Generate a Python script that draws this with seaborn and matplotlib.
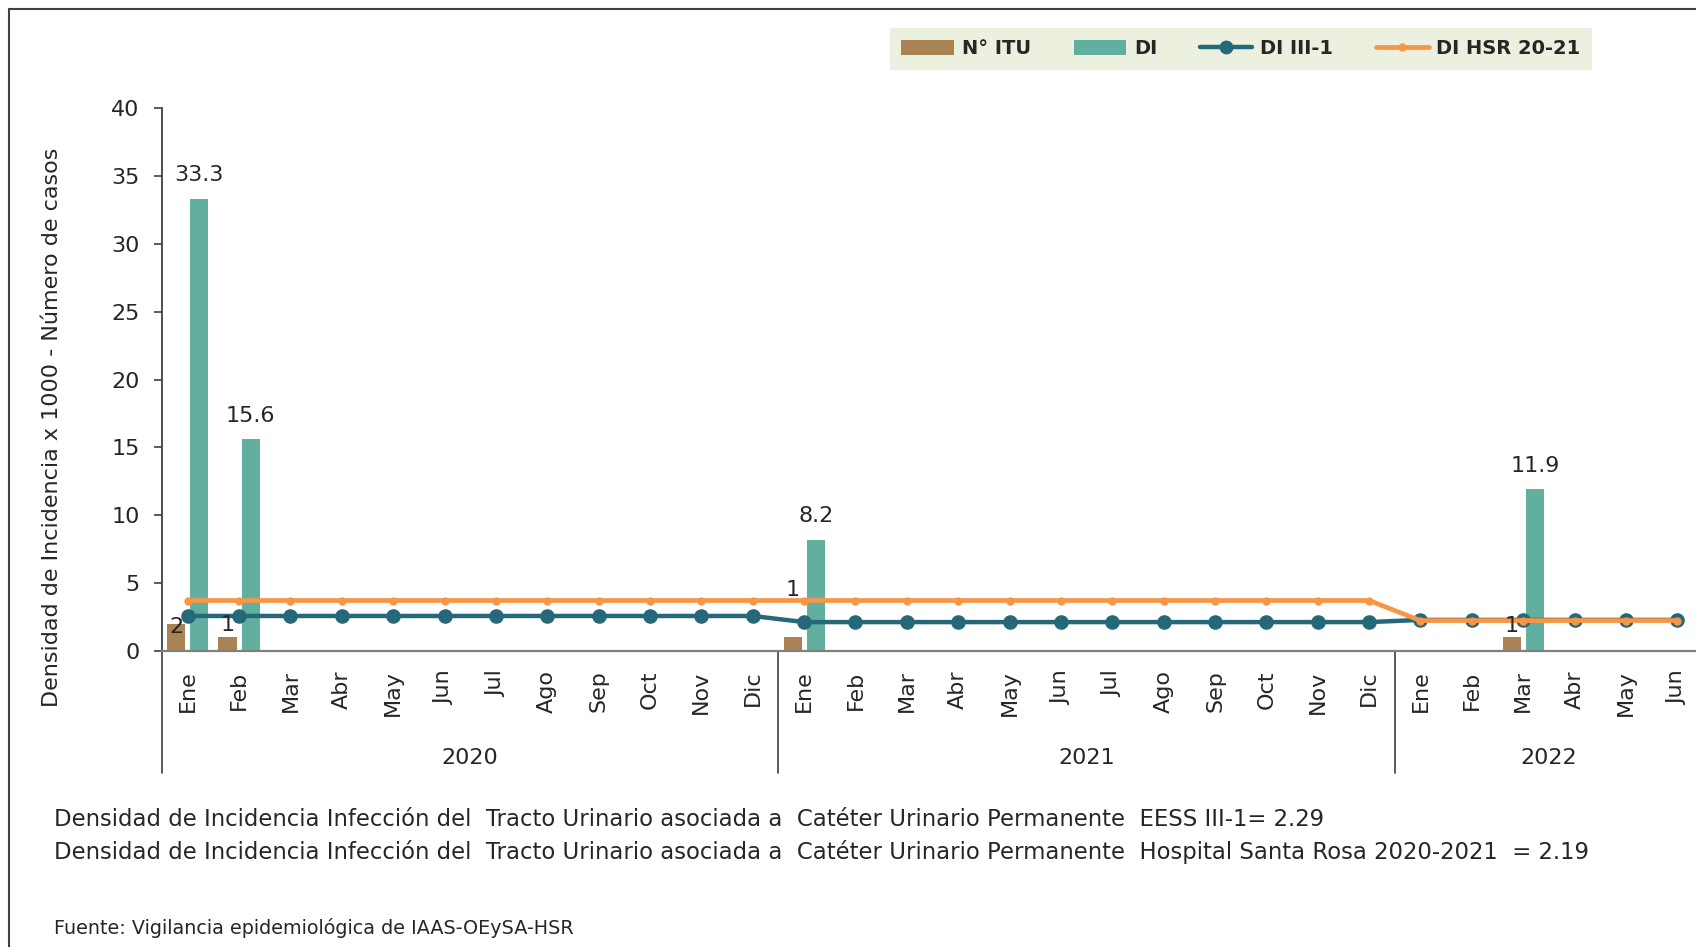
import matplotlib
matplotlib.use('Agg')
import matplotlib.pyplot as plt
import seaborn as sns
import numpy as np
import pandas as pd
from matplotlib.lines import Line2D
from matplotlib.patches import Patch

# ---------------- data ----------------
years = ['2020'] * 12 + ['2021'] * 12 + ['2022'] * 6
months = ['Ene', 'Feb', 'Mar', 'Abr', 'May', 'Jun', 'Jul', 'Ago', 'Sep', 'Oct', 'Nov', 'Dic',
          'Ene', 'Feb', 'Mar', 'Abr', 'May', 'Jun', 'Jul', 'Ago', 'Sep', 'Oct', 'Nov', 'Dic',
          'Ene', 'Feb', 'Mar', 'Abr', 'May', 'Jun']
year_labels = ['2020', '2021', '2022']
n_itu = [2, 1, 0, 0, 0, 0, 0, 0, 0, 0, 0, 0,
         1, 0, 0, 0, 0, 0, 0, 0, 0, 0, 0, 0,
         0, 0, 1, 0, 0, 0]
di = [33.3, 15.6, 0, 0, 0, 0, 0, 0, 0, 0, 0, 0,
      8.2, 0, 0, 0, 0, 0, 0, 0, 0, 0, 0, 0,
      0, 0, 11.9, 0, 0, 0]
di_iii1 = [2.58, 2.58, 2.58, 2.58, 2.58, 2.58, 2.58, 2.58, 2.58, 2.58, 2.58, 2.58,
           2.13, 2.13, 2.13, 2.13, 2.13, 2.13, 2.13, 2.13, 2.13, 2.13, 2.13, 2.13,
           2.29, 2.29, 2.29, 2.29, 2.29, 2.29]
di_hsr = [3.72, 3.72, 3.72, 3.72, 3.72, 3.72, 3.72, 3.72, 3.72, 3.72, 3.72, 3.72,
          3.72, 3.72, 3.72, 3.72, 3.72, 3.72, 3.72, 3.72, 3.72, 3.72, 3.72, 3.72,
          2.24, 2.24, 2.24, 2.24, 2.24, 2.24]
series_names = ['N° ITU', 'DI', 'DI III-1', 'DI HSR 20-21']
note_lines = [
    'Densidad de Incidencia Infección del  Tracto Urinario asociada a  Catéter Urinario Permanente  EESS III-1= 2.29',
    'Densidad de Incidencia Infección del  Tracto Urinario asociada a  Catéter Urinario Permanente  Hospital Santa Rosa 2020-2021  = 2.19',
]
source_text = 'Fuente: Vigilancia epidemiológica de IAAS-OEySA-HSR'
y_title = 'Densidad de Incidencia x 1000 - Número de casos'

# ---------------- style ----------------
c_itu = '#A98354'
c_di = '#63AF9F'
c_teal = '#24687A'
c_orange = '#F79646'
sns.set_style('white')
plt.rcParams['font.family'] = ['DejaVu Sans']

W, H = 1696, 947
fig = plt.figure(figsize=(W / 100, H / 100), dpi=100)
ax_left, ax_right = 162 / W, 1703 / W
ax_bottom, ax_top = (H - 651) / H, (H - 108) / H
ax = fig.add_axes([ax_left, ax_bottom, ax_right - ax_left, ax_top - ax_bottom])

keys = [f'{y}-{m}' for y, m in zip(years, months)]
n = len(keys)
df = pd.DataFrame({
    'key': keys * 2,
    'value': n_itu + di,
    'serie': [series_names[0]] * n + [series_names[1]] * n,
})
sns.barplot(data=df, x='key', y='value', hue='serie', order=keys,
            hue_order=series_names[:2],
            palette={series_names[0]: c_itu, series_names[1]: c_di},
            width=0.9, gap=0.22, saturation=1, linewidth=0, errorbar=None,
            legend=False, ax=ax, zorder=2)

pos = np.arange(n)
sns.lineplot(x=pos, y=di_iii1, ax=ax, color=c_teal, lw=3.2, marker='o',
             markersize=10.5, markeredgewidth=0, zorder=4, legend=False)
sns.lineplot(x=pos, y=di_hsr, ax=ax, color=c_orange, lw=3.4, marker='o',
             markersize=6, markeredgewidth=0, zorder=5, legend=False)

# data labels
itu_offsets = [-2, 9, 34, 8]   # points, label position tweaks
k = 0
for bar, v in zip(ax.containers[0], n_itu):
    if v:
        ax.annotate(f'{v}', (bar.get_x() + bar.get_width() / 2, v),
                    xytext=(0, itu_offsets[k]), textcoords='offset points',
                    ha='center', va='center', fontsize=16, zorder=6)
        k += 1
for bar, v in zip(ax.containers[1], di):
    if v:
        ax.annotate(f'{v}', (bar.get_x() + bar.get_width() / 2, v),
                    xytext=(0, 17), textcoords='offset points',
                    ha='center', va='center', fontsize=16, zorder=6)

# axes
ax.set_xlim(-0.5, n - 0.5)
ax.set_ylim(0, 40)
ax.set_yticks(range(0, 41, 5))
ax.set_xticks(pos)
ax.set_xticklabels(months, rotation=90, va='top', ha='center')
ax.tick_params(axis='x', length=0, pad=14, labelsize=16)
ax.tick_params(axis='y', length=6, width=1.2, pad=10, labelsize=16, color='#404040', left=True)
ax.set_xlabel('')
ax.set_ylabel('')
for s in ['top', 'right']:
    ax.spines[s].set_visible(False)
ax.spines['left'].set_color('#404040')
ax.spines['left'].set_linewidth(1.3)
ax.spines['bottom'].set_color('#7F7F7F')
ax.spines['bottom'].set_linewidth(1.6)
ax.grid(False)

# category group separators and year labels
trans = ax.get_xaxis_transform()
ax_h_px = 651 - 108
y_low = -(773 - 651) / ax_h_px
bounds = [-0.5, 11.5, 23.5]
for b in bounds:
    ax.add_line(Line2D([b, b], [0, y_low], transform=trans, color='#404040', lw=1.2, clip_on=False))
group_sizes = [years.count(y) for y in year_labels]
start = 0
for lab, sz in zip(year_labels, group_sizes):
    ax.text(start + (sz - 1) / 2, -(758 - 651) / ax_h_px, lab, transform=trans,
            ha='center', va='center', fontsize=16)
    start += sz

# y title
ax.text((52 - 162) / (1703 - 162), (651 - 427) / ax_h_px, y_title, transform=ax.transAxes,
        rotation=90, ha='center', va='center', fontsize=16)

# legend
handles = [
    Patch(facecolor=c_itu, edgecolor='none'),
    Patch(facecolor=c_di, edgecolor='none'),
    Line2D([], [], color=c_teal, lw=3.2, marker='o', markersize=10, markeredgewidth=0),
    Line2D([], [], color=c_orange, lw=3.4, marker='o', markersize=6, markeredgewidth=0),
]
leg = fig.legend(handles, series_names, loc='center', bbox_to_anchor=(1241 / W, 1 - 49 / H),
                 ncol=4, frameon=True, fancybox=False, facecolor='#EBF1DE', edgecolor='none',
                 framealpha=1, handlelength=2.7, handleheight=0.8, handletextpad=0.4,
                 columnspacing=2.2, borderpad=0.6, prop={'weight': 'bold', 'size': 14})

# notes
fig.text(54 / W, 1 - 819 / H, note_lines[0], ha='left', va='center', fontsize=16.4)
fig.text(54 / W, 1 - 852 / H, note_lines[1], ha='left', va='center', fontsize=16.4)
fig.text(54 / W, 1 - 928 / H, source_text, ha='left', va='center', fontsize=13.8)

# outer frame
fig.add_artist(Line2D([9 / W, 9 / W], [0, 1 - 9 / H], transform=fig.transFigure, color='#404040', lw=1.5))
fig.add_artist(Line2D([9 / W, 1], [1 - 9 / H, 1 - 9 / H], transform=fig.transFigure, color='#404040', lw=1.5))

fig.savefig('out.png', dpi=100, facecolor='white')
